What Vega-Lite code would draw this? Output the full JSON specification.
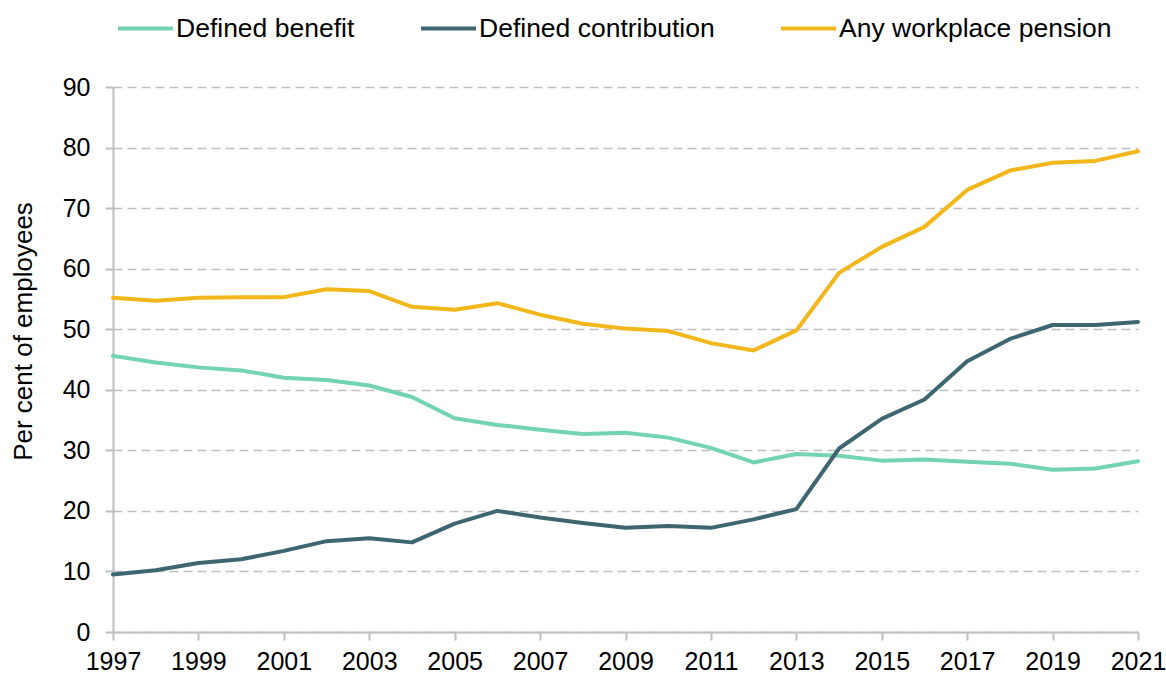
{
  "$schema": "https://vega.github.io/schema/vega-lite/v6.json",
  "autosize": "none",
  "width": 1025,
  "height": 545,
  "padding": {"left": 113, "top": 87, "right": 28, "bottom": 43},
  "background": "white",
  "config": {
    "font": "Liberation Sans",
    "view": {"stroke": null},
    "axis": {"labelFont": "Liberation Sans", "titleFont": "Liberation Sans", "labelColor": "#000000", "titleColor": "#000000"}
  },
  "datasets": {
    "pension": [
      {"year": 1997, "series": "Defined benefit", "value": 45.6},
      {"year": 1998, "series": "Defined benefit", "value": 44.5},
      {"year": 1999, "series": "Defined benefit", "value": 43.7},
      {"year": 2000, "series": "Defined benefit", "value": 43.2},
      {"year": 2001, "series": "Defined benefit", "value": 42.0},
      {"year": 2002, "series": "Defined benefit", "value": 41.6},
      {"year": 2003, "series": "Defined benefit", "value": 40.7},
      {"year": 2004, "series": "Defined benefit", "value": 38.8},
      {"year": 2005, "series": "Defined benefit", "value": 35.3},
      {"year": 2006, "series": "Defined benefit", "value": 34.2},
      {"year": 2007, "series": "Defined benefit", "value": 33.4},
      {"year": 2008, "series": "Defined benefit", "value": 32.7},
      {"year": 2009, "series": "Defined benefit", "value": 32.9},
      {"year": 2010, "series": "Defined benefit", "value": 32.1},
      {"year": 2011, "series": "Defined benefit", "value": 30.4},
      {"year": 2012, "series": "Defined benefit", "value": 28.0},
      {"year": 2013, "series": "Defined benefit", "value": 29.4},
      {"year": 2014, "series": "Defined benefit", "value": 29.1},
      {"year": 2015, "series": "Defined benefit", "value": 28.3},
      {"year": 2016, "series": "Defined benefit", "value": 28.5},
      {"year": 2017, "series": "Defined benefit", "value": 28.1},
      {"year": 2018, "series": "Defined benefit", "value": 27.8},
      {"year": 2019, "series": "Defined benefit", "value": 26.8},
      {"year": 2020, "series": "Defined benefit", "value": 27.0},
      {"year": 2021, "series": "Defined benefit", "value": 28.2},
      {"year": 1997, "series": "Defined contribution", "value": 9.5},
      {"year": 1998, "series": "Defined contribution", "value": 10.2},
      {"year": 1999, "series": "Defined contribution", "value": 11.4},
      {"year": 2000, "series": "Defined contribution", "value": 12.0},
      {"year": 2001, "series": "Defined contribution", "value": 13.4},
      {"year": 2002, "series": "Defined contribution", "value": 15.0},
      {"year": 2003, "series": "Defined contribution", "value": 15.5},
      {"year": 2004, "series": "Defined contribution", "value": 14.8},
      {"year": 2005, "series": "Defined contribution", "value": 17.9},
      {"year": 2006, "series": "Defined contribution", "value": 20.0},
      {"year": 2007, "series": "Defined contribution", "value": 18.9},
      {"year": 2008, "series": "Defined contribution", "value": 18.0},
      {"year": 2009, "series": "Defined contribution", "value": 17.2},
      {"year": 2010, "series": "Defined contribution", "value": 17.5},
      {"year": 2011, "series": "Defined contribution", "value": 17.2},
      {"year": 2012, "series": "Defined contribution", "value": 18.6},
      {"year": 2013, "series": "Defined contribution", "value": 20.3},
      {"year": 2014, "series": "Defined contribution", "value": 30.3},
      {"year": 2015, "series": "Defined contribution", "value": 35.2},
      {"year": 2016, "series": "Defined contribution", "value": 38.4},
      {"year": 2017, "series": "Defined contribution", "value": 44.7},
      {"year": 2018, "series": "Defined contribution", "value": 48.4},
      {"year": 2019, "series": "Defined contribution", "value": 50.7},
      {"year": 2020, "series": "Defined contribution", "value": 50.7},
      {"year": 2021, "series": "Defined contribution", "value": 51.2},
      {"year": 1997, "series": "Any workplace pension", "value": 55.2},
      {"year": 1998, "series": "Any workplace pension", "value": 54.7},
      {"year": 1999, "series": "Any workplace pension", "value": 55.2},
      {"year": 2000, "series": "Any workplace pension", "value": 55.3},
      {"year": 2001, "series": "Any workplace pension", "value": 55.3},
      {"year": 2002, "series": "Any workplace pension", "value": 56.6},
      {"year": 2003, "series": "Any workplace pension", "value": 56.3},
      {"year": 2004, "series": "Any workplace pension", "value": 53.7},
      {"year": 2005, "series": "Any workplace pension", "value": 53.2},
      {"year": 2006, "series": "Any workplace pension", "value": 54.3},
      {"year": 2007, "series": "Any workplace pension", "value": 52.4},
      {"year": 2008, "series": "Any workplace pension", "value": 50.9},
      {"year": 2009, "series": "Any workplace pension", "value": 50.1},
      {"year": 2010, "series": "Any workplace pension", "value": 49.7},
      {"year": 2011, "series": "Any workplace pension", "value": 47.7},
      {"year": 2012, "series": "Any workplace pension", "value": 46.5},
      {"year": 2013, "series": "Any workplace pension", "value": 49.8},
      {"year": 2014, "series": "Any workplace pension", "value": 59.3},
      {"year": 2015, "series": "Any workplace pension", "value": 63.6},
      {"year": 2016, "series": "Any workplace pension", "value": 66.9},
      {"year": 2017, "series": "Any workplace pension", "value": 73.0},
      {"year": 2018, "series": "Any workplace pension", "value": 76.2},
      {"year": 2019, "series": "Any workplace pension", "value": 77.5},
      {"year": 2020, "series": "Any workplace pension", "value": 77.8},
      {"year": 2021, "series": "Any workplace pension", "value": 79.4}
    ]
  },
  "data": {"name": "pension"},
  "mark": {"type": "line", "strokeWidth": 4, "strokeJoin": "round", "strokeCap": "round"},
  "encoding": {
    "x": {
      "field": "year",
      "type": "quantitative",
      "scale": {"domain": [1997, 2021], "nice": false, "zero": false},
      "axis": {
        "title": null,
        "values": [1997, 1999, 2001, 2003, 2005, 2007, 2009, 2011, 2013, 2015, 2017, 2019, 2021],
        "format": "d",
        "grid": false,
        "domainColor": "#BFBFBF",
        "domainWidth": 2,
        "tickColor": "#BFBFBF",
        "tickWidth": 2,
        "tickSize": 8,
        "labelFontSize": 25,
        "labelPadding": 9,
        "labelFlush": false,
        "labelOverlap": false
      }
    },
    "y": {
      "field": "value",
      "type": "quantitative",
      "scale": {"domain": [0, 90], "nice": false},
      "axis": {
        "title": "Per cent of employees",
        "titleFontSize": 26,
        "titleFontWeight": "normal",
        "titlePadding": 26,
        "titleY": 244,
        "values": [0, 10, 20, 30, 40, 50, 60, 70, 80, 90],
        "grid": true,
        "gridColor": "#BFBFBF",
        "gridDash": [9, 5],
        "gridWidth": 1.5,
        "domainColor": "#BFBFBF",
        "domainWidth": 2,
        "tickColor": "#BFBFBF",
        "tickWidth": 2,
        "tickSize": 8,
        "labelFontSize": 25,
        "labelPadding": 15
      }
    },
    "color": {
      "field": "series",
      "type": "nominal",
      "scale": {
        "domain": ["Defined benefit", "Defined contribution", "Any workplace pension"],
        "range": ["#72D4B1", "#3E6670", "#F2B71A"]
      },
      "legend": {
        "title": null,
        "orient": "none",
        "direction": "horizontal",
        "legendX": 3,
        "legendY": -88,
        "symbolType": "stroke",
        "symbolSize": 3025,
        "symbolStrokeWidth": 4,
        "labelFontSize": 26.5,
        "labelLimit": 500,
        "labelColor": "#000000",
        "labelFont": "Liberation Sans",
        "labelOffset": 1,
        "columnPadding": 58
      }
    }
  }
}
